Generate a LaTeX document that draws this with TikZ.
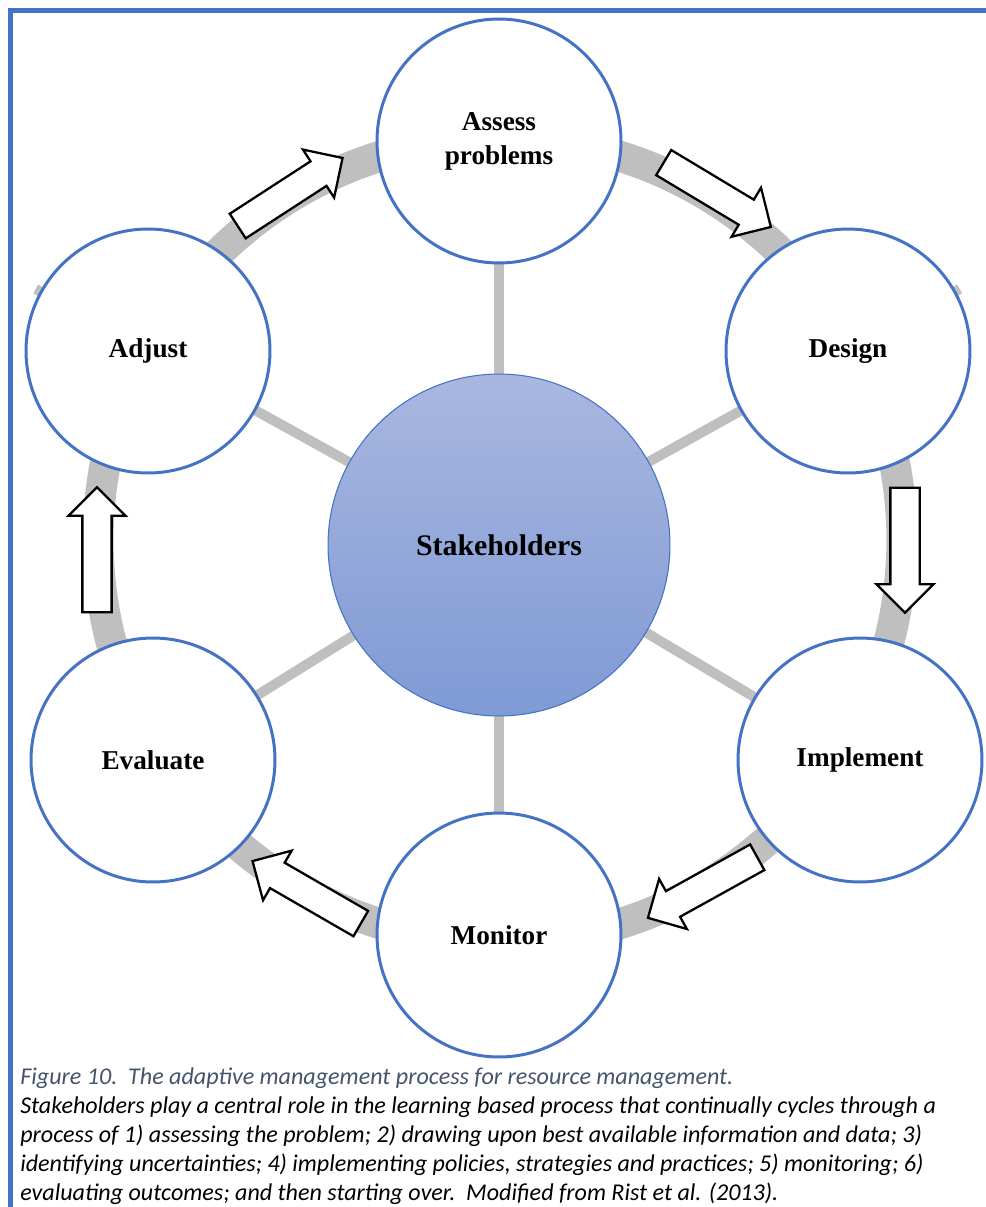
\documentclass[tikz,border=0pt]{standalone}
\usepackage{fontspec}
\setmainfont{Liberation Serif}
\newfontfamily\capfont{Carlito}
\usetikzlibrary{shapes.arrows}
\usetikzlibrary{backgrounds}
\usetikzlibrary{calc}
\definecolor{ringblue}{HTML}{4472C4}
\definecolor{ringgray}{HTML}{BFBFBF}
\definecolor{captionblue}{HTML}{44546A}
\tikzset{
	stage/.style={circle, draw=ringblue, line width=1.7pt, fill=white,
		minimum size=4.88cm, inner sep=0pt, align=center,
		font=\bfseries\fontsize{15.5}{19.3}\selectfont},
	hub/.style={circle, draw=ringblue, line width=0.6pt,
		top color={rgb,255:red,169;green,183;blue,224},
		bottom color={rgb,255:red,127;green,154;blue,213},
		minimum size=6.84cm, inner sep=0pt,
		font=\bfseries\fontsize{17}{20}\selectfont},
	spoke/.style={draw=ringgray, line width=0.2cm},
	blockarrow/.style={single arrow, draw=black, line width=1.3pt, fill=white,
		minimum height=2.5cm, inner xsep=0pt, inner ysep=0.27cm,
		single arrow head extend=0.28cm}
}

\begin{document}
\begin{tikzpicture}[x=0.02cm,y=-0.02cm]
	\useasboundingbox (0,0) rectangle (986,1207);
	\draw[ringblue,line width=0.1cm] (986,10.5) -- (10.5,10.5) -- (10.5,1207);

	% the six steps round the hub
	\node[hub] (stake) at (499,545) {Stakeholders};
	\node[stage] (assess) at (499,141) {Assess\\problems};
	\node[stage] (design) at (848,351) {Design};
	\node[stage] (implement) at (860,760) {Implement};
	\node[stage] (monitor) at (499,935) {Monitor};
	\node[stage] (evaluate) at (153,760) {Evaluate};
	\node[stage] (adjust) at (148,351) {Adjust};

	\begin{scope}[on background layer]
		\draw[ringgray,line width=0.62cm] (500,540) circle (8.04cm);
		\draw[spoke] (stake.center) -- (assess.center);
		\draw[spoke] (stake.center) -- ($(stake.center)!1.32!(design.center)$);
		\draw[spoke] (stake.center) -- (implement.center);
		\draw[spoke] (stake.center) -- (monitor.center);
		\draw[spoke] (stake.center) -- (evaluate.center);
		\draw[spoke] (stake.center) -- ($(stake.center)!1.32!(adjust.center)$);
	\end{scope}

	% block arrows on the ring
	\node[blockarrow,rotate=33] (toassess) at (284,196) {};
	\node[blockarrow,rotate=-31] (todesign) at (711,191) {};
	\node[blockarrow,rotate=-90] (toimplement) at (905,543) {};
	\node[blockarrow,rotate=209] (tomonitor) at (709,884) {};
	\node[blockarrow,rotate=150] (toevaluate) at (313,896) {};
	\node[blockarrow,rotate=90] (toadjust) at (97,557) {};

	\node[anchor=north west, inner sep=0pt, align=left,
		font=\capfont\itshape\fontsize{13.7}{16.55}\selectfont] (caption) at (20,1067)
		{\textcolor{captionblue}{Figure 10.\ \ The adaptive management process for resource management.}\\
		Stakeholders play a central role in the learning based process that continually cycles through a\\
		process of 1) assessing the problem; 2) drawing upon best available information and data; 3)\\
		identifying uncertainties; 4) implementing policies, strategies and practices; 5) monitoring; 6)\\
		evaluating outcomes; and then starting over.\ \ Modified from Rist et al. (2013).};
\end{tikzpicture}
\end{document}
